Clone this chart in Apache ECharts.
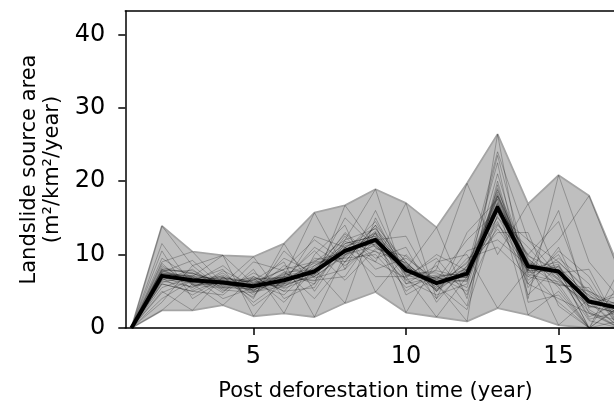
<!DOCTYPE html>
<html>
<head>
<meta charset="utf-8">
<script src="https://cdn.jsdelivr.net/npm/echarts@6/dist/echarts.min.js"></script>
<style>
html,body{margin:0;padding:0;background:#fff;}
#chart{width:614px;height:405px;}
</style>
</head>
<body>
<div id="chart"></div>
<script>
// ---- data ----
var years = [1,2,3,4,5,6,7,8,9,10,11,12,13,14,15,16,17];
var meanArea  = [0, 7.1, 6.5, 6.2, 5.7, 6.5, 7.7, 10.5, 12.0, 7.9, 6.1, 7.4, 16.4, 8.4, 7.7, 3.6, 2.7];
var upperArea = [0, 13.9, 10.4, 9.9, 9.7, 11.5, 15.7, 16.7, 18.9, 17.0, 13.7, 19.7, 26.4, 16.9, 20.8, 18.0, 8.0];
var lowerArea = [0, 2.4, 2.4, 3.1, 1.6, 2.0, 1.5, 3.4, 4.9, 2.1, 1.5, 0.9, 2.7, 1.8, 0.4, 0, 0];
var run01 = [0, 13.9, 8.5, 9.9, 6.0, 8.0, 12.0, 9.0, 14.0, 9.0, 5.0, 8.0, 18.0, 7.0, 10.0, 3.0, 2.0];
var run02 = [0, 2.4, 6.0, 3.1, 7.0, 5.0, 9.0, 12.0, 18.9, 6.0, 7.0, 5.0, 14.0, 10.0, 6.0, 0, 1.0];
var run03 = [0, 9.0, 10.4, 6.0, 9.7, 4.0, 6.0, 16.7, 11.0, 8.0, 13.7, 4.0, 20.0, 6.0, 4.0, 2.0, 0];
var run04 = [0, 5.0, 2.4, 7.0, 4.0, 11.5, 5.0, 11.0, 9.0, 17.0, 4.0, 8.0, 24.0, 12.0, 9.0, 5.0, 3.0];
var run05 = [0, 7.5, 7.0, 9.9, 1.6, 7.0, 15.7, 8.0, 12.0, 5.0, 8.0, 19.7, 10.0, 16.9, 7.0, 1.0, 0];
var run06 = [0, 6.0, 5.0, 4.5, 8.0, 2.0, 10.0, 14.0, 4.9, 10.0, 6.0, 0.9, 26.4, 4.0, 20.8, 9.0, 4.0];
var run07 = [0, 8.0, 7.5, 5.5, 6.5, 9.0, 1.5, 10.0, 13.0, 2.1, 9.0, 10.0, 2.7, 8.0, 12.0, 18.0, 7.5];
var run08 = [0, 4.0, 6.5, 8.0, 3.0, 6.0, 8.0, 3.4, 15.0, 7.0, 1.5, 7.0, 17.0, 1.8, 5.0, 0, 0];
var run09 = [0, 10.5, 4.0, 6.5, 5.0, 8.5, 7.0, 12.5, 8.0, 9.5, 6.5, 12.0, 16.0, 9.0, 0.4, 4.0, 2.0];
var run10 = [0, 6.5, 8.0, 5.0, 7.5, 5.5, 9.5, 9.0, 10.5, 6.5, 4.5, 6.0, 21.0, 7.5, 8.0, 0, 0];
var run11 = [0, 7.0, 5.5, 7.5, 4.5, 7.5, 6.0, 11.5, 12.5, 8.5, 5.5, 9.0, 15.0, 11.0, 6.5, 3.0, 5.0];
var run12 = [0, 8.5, 6.0, 6.0, 6.0, 4.5, 8.5, 10.5, 14.5, 7.5, 7.5, 5.5, 18.5, 6.5, 9.5, 6.0, 0];
var run13 = [0, 5.5, 7.0, 4.0, 5.5, 9.5, 7.5, 13.0, 9.5, 11.0, 3.5, 8.5, 13.0, 13.0, 3.0, 0, 3.0];
var run14 = [0, 9.5, 6.8, 7.0, 3.5, 6.5, 11.0, 8.5, 11.5, 6.0, 8.5, 3.0, 19.5, 5.5, 11.0, 2.0, 1.0];
var run15 = [0, 7.8, 7.8, 5.8, 7.0, 5.0, 5.5, 12.0, 13.5, 9.0, 5.0, 10.5, 12.0, 8.5, 7.5, 8.0, 0];
var run16 = [0, 6.8, 4.5, 6.8, 6.2, 8.0, 9.0, 9.5, 10.0, 5.5, 7.0, 7.5, 22.5, 3.5, 4.5, 0, 6.0];
var run17 = [0, 3.5, 8.5, 5.2, 4.8, 7.0, 6.5, 7.0, 13.0, 8.0, 6.0, 6.5, 16.5, 10.0, 14.5, 3.5, 0];
var run18 = [0, 11.5, 5.8, 6.2, 6.8, 3.5, 8.0, 10.0, 12.0, 12.5, 5.0, 9.5, 11.0, 7.0, 6.0, 5.0, 2.5];
var run19 = [0, 7.2, 6.2, 8.5, 5.0, 6.0, 12.5, 11.0, 7.0, 7.0, 9.5, 4.5, 18.0, 9.5, 5.5, 0, 8.0];
var run20 = [0, 6.2, 7.2, 4.8, 9.0, 7.8, 4.0, 9.0, 14.0, 4.5, 6.8, 8.0, 14.5, 6.0, 10.5, 7.0, 0];
var run21 = [0, 8.8, 5.2, 7.8, 5.8, 5.8, 7.2, 15.0, 11.0, 8.8, 4.0, 13.0, 17.5, 4.5, 8.5, 1.5, 3.5];
var run22 = [0, 4.8, 6.6, 6.4, 4.2, 10.5, 6.8, 8.0, 16.0, 7.2, 7.8, 6.8, 23.5, 8.0, 3.5, 0, 0];
var run23 = [0, 7.6, 9.2, 5.6, 6.6, 6.8, 10.5, 6.5, 10.8, 9.8, 5.8, 2.5, 15.5, 12.0, 7.0, 4.5, 1.5];
var run24 = [0, 6.0, 5.0, 6.6, 5.4, 7.2, 7.8, 12.8, 9.0, 6.8, 10.0, 7.8, 13.5, 7.8, 16.0, 2.5, 0];
var run25 = [0, 7.4, 6.8, 6.0, 5.2, 6.4, 8.2, 11.5, 12.5, 7.6, 6.4, 7.0, 17.2, 8.8, 7.2, 3.0, 2.0];
var run26 = [0, 6.6, 6.2, 6.9, 6.3, 6.0, 7.0, 10.0, 11.2, 8.4, 5.6, 8.2, 15.8, 7.8, 8.4, 4.2, 3.2];
var run27 = [0, 7.9, 5.9, 5.4, 5.9, 7.3, 8.8, 9.6, 12.8, 7.1, 6.9, 6.3, 18.8, 9.3, 6.8, 2.2, 0];
var run28 = [0, 8.2, 7.4, 6.3, 4.9, 5.7, 7.4, 11.8, 10.4, 8.9, 5.2, 7.9, 14.2, 8.1, 9.0, 4.8, 1.8];
var run29 = [0, 6.9, 6.4, 5.7, 6.7, 6.9, 6.4, 10.9, 13.6, 7.7, 6.6, 6.9, 19.0, 7.3, 6.3, 3.3, 4.4];
var run30 = [0, 7.3, 7.1, 6.5, 5.5, 6.2, 9.2, 10.3, 11.7, 8.2, 5.9, 8.8, 16.9, 9.8, 7.9, 0, 2.8];
var run31 = [0, 6.4, 5.6, 7.2, 5.1, 7.6, 7.9, 11.2, 12.2, 6.6, 7.2, 7.3, 17.9, 8.6, 5.8, 5.5, 0];
var run32 = [0, 7.7, 6.9, 5.9, 6.5, 5.4, 7.0, 9.8, 13.2, 8.6, 6.2, 6.6, 15.2, 7.6, 8.7, 1.2, 2.2];
var run33 = [0, 8.0, 6.1, 6.7, 5.7, 6.6, 8.5, 10.8, 11.4, 7.4, 5.3, 8.4, 18.2, 8.9, 7.4, 3.8, 0];
var run34 = [0, 6.7, 7.5, 6.1, 6.0, 7.0, 7.6, 11.0, 12.9, 8.0, 6.7, 7.1, 16.2, 9.1, 6.6, 2.8, 3.6];
var run35 = [0, 7.1, 6.3, 5.5, 5.3, 6.1, 8.1, 10.2, 11.9, 7.8, 6.0, 7.7, 17.6, 8.3, 8.2, 4.4, 1.2];
var run36 = [0, 7.5, 6.7, 6.8, 6.1, 6.8, 7.3, 10.6, 12.3, 8.3, 6.3, 7.4, 16.6, 7.9, 7.6, 3.4, 2.6];
var runs = [run01,run02,run03,run04,run05,run06,run07,run08,run09,run10,run11,run12,
            run13,run14,run15,run16,run17,run18,run19,run20,run21,run22,run23,run24,
            run25,run26,run27,run28,run29,run30,run31,run32,run33,run34,run35,run36];
var xTicks = [5, 10, 15];
var yTicks = [0, 10, 20, 30, 40];
var xTitle = 'Post deforestation time (year)';
var yTitle = 'Landslide source area\n(m\u00B2/km\u00B2/year)';

// ---- build series ----
function pairs(vals){ return years.map(function(x,i){ return [x, vals[i]]; }); }
var FONT = 'DejaVu Sans';
var EDGE = '#a4a4a4';
var series = [];
// envelope: grey area under the upper bound, then white area under the lower bound
series.push({
  type:'line', data: pairs(upperArea), symbol:'none', silent:true, z:1,
  lineStyle:{color:EDGE, width:1.8},
  areaStyle:{color:'#bfbfbf', opacity:1, origin:'start'}
});
series.push({
  type:'line', data: pairs(lowerArea), symbol:'none', silent:true, z:1.5,
  lineStyle:{color:EDGE, width:1.8},
  areaStyle:{color:'#ffffff', opacity:1, origin:'start'}
});
runs.forEach(function(r){
  series.push({type:'line', data: pairs(r), symbol:'none', silent:true, z:2,
    lineStyle:{color:'rgba(0,0,0,0.33)', width:0.75}});
});
series.push({type:'line', data: pairs(meanArea), symbol:'none', silent:true, z:3,
  lineStyle:{color:'#000', width:4, join:'round'}});

var chart = echarts.init(document.getElementById('chart'), null, {renderer:'canvas'});
chart.setOption({
  animation:false,
  backgroundColor:'#ffffff',
  grid:{left:125.3, right:-11.7, top:11, bottom:77, containLabel:false, outerBoundsMode:'none'},
  xAxis:[{
    type:'value', min:0.8, max:17.2, z:10,
    name: xTitle, nameLocation:'middle', nameGap:53,
    nameTextStyle:{fontFamily:FONT, fontSize:21, color:'#000'},
    axisLine:{show:true, onZero:false, lineStyle:{color:'#000', width:1.5}},
    axisTick:{show:true, length:7, lineStyle:{color:'#000', width:1.5}, customValues:xTicks},
    axisLabel:{fontFamily:FONT, fontSize:24, color:'#000', margin:17, customValues:xTicks},
    splitLine:{show:false}
  },{
    type:'value', min:0.8, max:17.2, position:'top', z:10,
    axisLine:{show:true, onZero:false, lineStyle:{color:'#000', width:1.5}},
    axisTick:{show:false}, axisLabel:{show:false}, splitLine:{show:false}
  }],
  yAxis:{
    type:'value', min:0, max:43.17, z:10,
    name: yTitle, nameLocation:'middle', nameGap:61, nameRotate:90,
    nameTextStyle:{fontFamily:FONT, fontSize:21, color:'#000', lineHeight:23, align:'center'},
    axisLine:{show:true, onZero:false, lineStyle:{color:'#000', width:1.5}},
    axisTick:{show:true, length:7, lineStyle:{color:'#000', width:1.5}, customValues:yTicks},
    axisLabel:{fontFamily:FONT, fontSize:24, color:'#000', margin:20, customValues:yTicks},
    splitLine:{show:false}
  },
  series: series
});
</script>
</body>
</html>
